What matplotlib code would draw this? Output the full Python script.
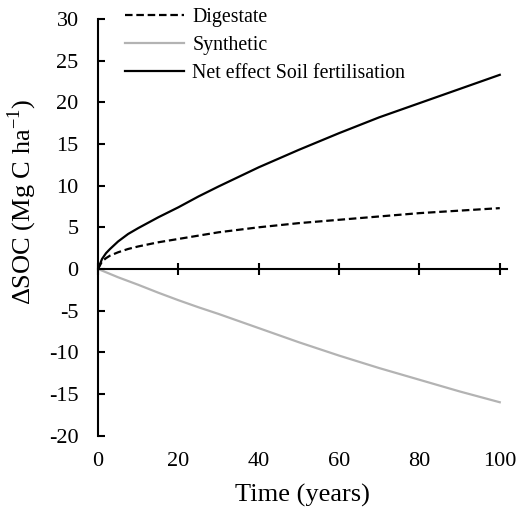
import matplotlib.pyplot as plt

plt.rcParams['font.family'] = ['Liberation Serif', 'DejaVu Serif']
plt.rcParams['mathtext.fontset'] = 'custom'
plt.rcParams['mathtext.rm'] = 'Liberation Serif'

# values (years, Mg C/ha)
years = [0, 1, 2, 3, 5, 7.5, 10, 15, 20, 25, 30, 40, 50, 60, 70, 80, 90, 100]
digestate = [0, 0.9, 1.3, 1.6, 2.0, 2.4, 2.7, 3.2, 3.6, 4.0, 4.4, 5.0, 5.5, 5.9, 6.3, 6.7, 7.0, 7.3]
synthetic = [0, -0.2, -0.4, -0.6, -1.0, -1.45, -1.9, -2.85, -3.75, -4.6, -5.4, -7.1, -8.8, -10.4, -11.9, -13.3, -14.7, -16.0]
net_effect = [0, 1.2, 1.9, 2.4, 3.3, 4.2, 4.9, 6.2, 7.4, 8.7, 9.9, 12.2, 14.3, 16.3, 18.2, 19.9, 21.6, 23.3]

xticks = [0, 20, 40, 60, 80, 100]
yticks = list(range(-20, 31, 5))

fig = plt.figure(figsize=(5.2, 5.11), dpi=100)
ax = fig.add_axes([0.1885, 0.1476, 0.7865, 0.8152])

ax.plot(years, digestate, color='black', lw=1.6, ls=(0, (3.4, 1.7)), label='Digestate')
ax.plot(years, synthetic, color='#b3b3b3', lw=1.6, label='Synthetic')
ax.plot(years, net_effect, color='black', lw=1.6, label='Net effect Soil fertilisation')

ax.set_xlim(0, 101.8)
ax.set_ylim(-20, 30)
ax.set_yticks(yticks)
ax.set_yticklabels([str(v) for v in yticks])

for s in ['top', 'right']:
    ax.spines[s].set_visible(False)
ax.spines['bottom'].set_position(('data', 0))
ax.spines['bottom'].set_linewidth(1.5)
ax.spines['left'].set_linewidth(1.5)

ax.set_xticks(xticks)
ax.tick_params(axis='x', direction='inout', length=9, width=1.5, labelbottom=False)
ax.tick_params(axis='y', direction='in', length=5, width=1.5, labelsize=16, pad=14)

# x tick labels sit below the plot, not on the zero line
sec = ax.secondary_xaxis('bottom')
sec.spines['bottom'].set_visible(False)
sec.set_xticks(xticks)
sec.tick_params(length=0, labelsize=16, pad=12)
sec.set_xlabel('Time (years)', fontsize=19, labelpad=9)

ax.set_ylabel(r'ΔSOC (Mg C ha$^{\mathregular{-1}}$)', fontsize=19)
ax.yaxis.set_label_coords(-0.145, 0.56)

ax.legend(loc='upper left', bbox_to_anchor=(0.24, 0.985), bbox_transform=fig.transFigure,
          frameon=False, fontsize=14.3, handlelength=3.0, handletextpad=0.4,
          labelspacing=0.45, borderpad=0, borderaxespad=0)

fig.savefig('out.png', dpi=100)
